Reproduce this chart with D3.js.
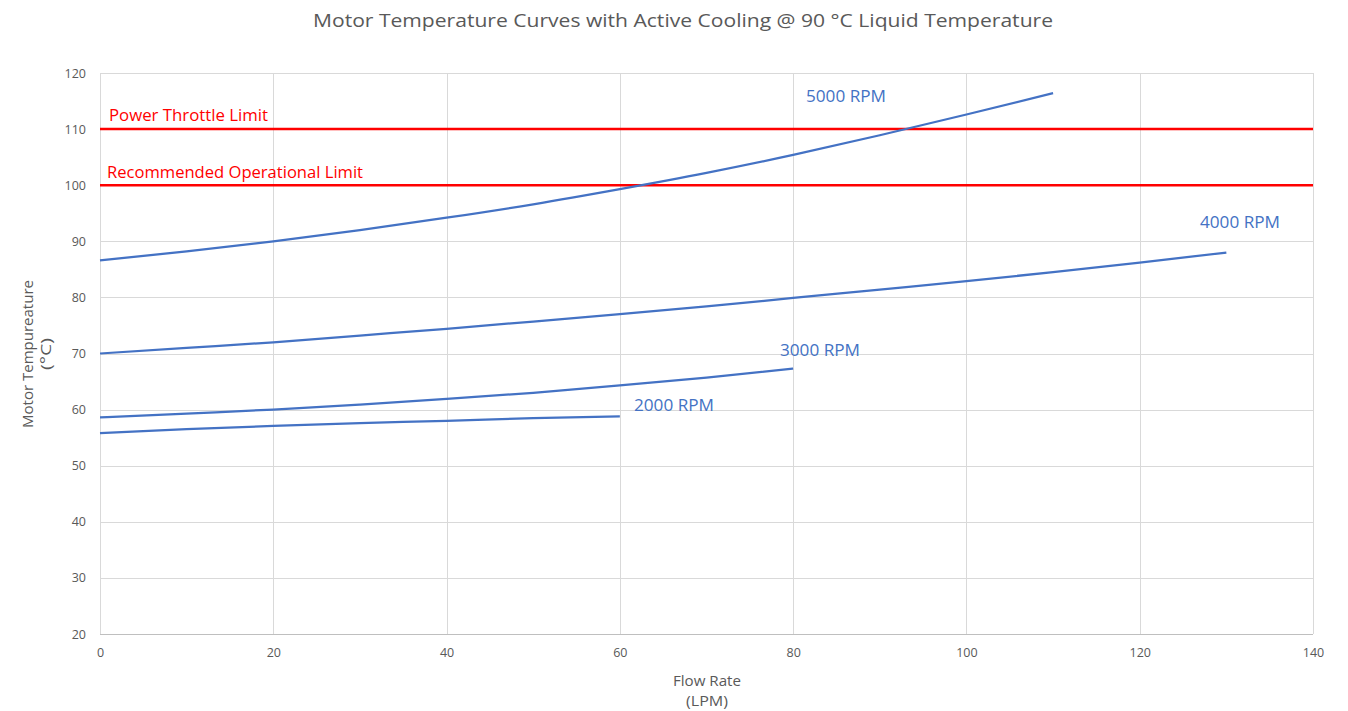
<!DOCTYPE html>
<html>
<head>
<meta charset="utf-8">
<script src="https://cdn.jsdelivr.net/npm/d3@7"></script>
<style>
  html, body { margin: 0; padding: 0; background: #fff; }
  svg { display: block; font-family: "Open Sans", "Noto Sans", sans-serif; }
</style>
</head>
<body>
<svg id="chart" width="1348" height="711"></svg>
<script>
// Flow rate (LPM) sample points and motor temperature (°C) per speed
const flow2000 = [0, 10, 20, 30, 40, 50, 60];
const temp2000 = [55.8, 56.5, 57.1, 57.6, 58.0, 58.5, 58.8];

const flow3000 = [0, 10, 20, 30, 40, 50, 60, 70, 80];
const temp3000 = [58.6, 59.3, 60.0, 60.9, 61.9, 63.0, 64.3, 65.7, 67.3];

const flow4000 = [0, 10, 20, 30, 40, 50, 60, 70, 80, 90, 100, 110, 120, 130];
const temp4000 = [70.0, 71.0, 72.0, 73.2, 74.4, 75.7, 77.0, 78.4, 79.9, 81.4, 82.9, 84.5, 86.2, 88.0];

const flow5000 = [0, 10, 20, 30, 40, 50, 60, 70, 80, 90, 100, 110];
const temp5000 = [86.6, 88.2, 90.0, 92.0, 94.2, 96.6, 99.3, 102.2, 105.4, 108.9, 112.6, 116.4];

const seriesNames = ["2000 RPM", "3000 RPM", "4000 RPM", "5000 RPM"];

// Horizontal limit lines
const limitNames = ["Power Throttle Limit", "Recommended Operational Limit"];
const limitValues = [110, 100];

const xTicks = [0, 20, 40, 60, 80, 100, 120, 140];
const yTicks = [20, 30, 40, 50, 60, 70, 80, 90, 100, 110, 120];

(function draw() {
  const svg = d3.select("#chart");
  const plotLeft = 100, plotRight = 1313, plotTop = 73, plotBottom = 634;

  const x = d3.scaleLinear().domain([0, 140]).range([plotLeft, plotRight]);
  const y = d3.scaleLinear().domain([20, 120]).range([plotBottom, plotTop]);

  const grey = "#595959";
  const blue = "#4472C4";
  const red = "#FF0000";

  // Title
  svg.append("text")
    .attr("x", 683).attr("y", 27)
    .attr("text-anchor", "middle")
    .attr("font-size", 19)
    .attr("fill", grey)
    .attr("textLength", 740)
    .attr("lengthAdjust", "spacingAndGlyphs")
    .text("Motor Temperature Curves with Active Cooling @ 90 °C Liquid Temperature");

  // Gridlines
  const grid = svg.append("g");
  grid.selectAll("line.h").data(yTicks).join("line")
    .attr("class", "h")
    .attr("x1", plotLeft).attr("x2", plotRight)
    .attr("y1", d => Math.round(y(d)) + 0.5).attr("y2", d => Math.round(y(d)) + 0.5)
    .attr("stroke", d => d === 20 ? "#BFBFBF" : "#D9D9D9").attr("stroke-width", 1);
  grid.selectAll("line.v").data(xTicks).join("line")
    .attr("class", "v")
    .attr("y1", plotTop).attr("y2", plotBottom)
    .attr("x1", d => Math.round(x(d)) + 0.5).attr("x2", d => Math.round(x(d)) + 0.5)
    .attr("stroke", "#D9D9D9").attr("stroke-width", 1);

  // Axes (labels only, lines come from the grid)
  const xAxis = svg.append("g").attr("transform", `translate(0,${plotBottom})`)
    .call(d3.axisBottom(x).tickValues(xTicks).tickSize(0).tickPadding(14).tickFormat(d3.format("d")));
  const yAxis = svg.append("g").attr("transform", `translate(${plotLeft},0)`)
    .call(d3.axisLeft(y).tickValues(yTicks).tickSize(0).tickPadding(14).tickFormat(d3.format("d")));
  [xAxis, yAxis].forEach(a => {
    a.select(".domain").remove();
    a.selectAll("text").attr("fill", grey).attr("font-size", 12.5)
      .attr("font-family", "'Open Sans', sans-serif");
  });

  // Axis titles
  const title = (tx, ty, rot, len, txt) => svg.append("text")
    .attr("transform", `translate(${tx},${ty})` + (rot ? " rotate(-90)" : ""))
    .attr("text-anchor", "middle")
    .attr("font-size", 14).attr("fill", grey)
    .attr("textLength", len).attr("lengthAdjust", "spacingAndGlyphs")
    .text(txt);
  title(707, 686, false, 68, "Flow Rate");
  title(707, 706, false, 42, "(LPM)");
  title(33, 354, true, 148, "Motor Tempureature");
  title(51, 354, true, 32, "(°C)");

  // Limit lines
  svg.selectAll("line.limit").data(limitValues).join("line")
    .attr("class", "limit")
    .attr("x1", plotLeft).attr("x2", plotRight)
    .attr("y1", d => y(d)).attr("y2", d => y(d))
    .attr("stroke", red).attr("stroke-width", 2.5);
  const limitLabel = (lx, ly, len, txt) => svg.append("text")
    .attr("x", lx).attr("y", ly).attr("font-size", 16).attr("fill", red)
    .attr("textLength", len).attr("lengthAdjust", "spacingAndGlyphs").text(txt);
  limitLabel(109, 121, 159, limitNames[0]);
  limitLabel(107, 178, 256, limitNames[1]);

  // Speed curves
  const line = d3.line().x(d => x(d[0])).y(d => y(d[1])).curve(d3.curveMonotoneX);
  const series = [
    { name: seriesNames[0], flow: flow2000, temp: temp2000, lx: 634, ly: 411 },
    { name: seriesNames[1], flow: flow3000, temp: temp3000, lx: 780, ly: 356 },
    { name: seriesNames[2], flow: flow4000, temp: temp4000, lx: 1200, ly: 228 },
    { name: seriesNames[3], flow: flow5000, temp: temp5000, lx: 806, ly: 102 }
  ];
  series.forEach(s => {
    svg.append("path")
      .datum(s.flow.map((f, i) => [f, s.temp[i]]))
      .attr("d", line)
      .attr("fill", "none")
      .attr("stroke", blue)
      .attr("stroke-width", 2.25);
    svg.append("text").attr("x", s.lx).attr("y", s.ly)
      .attr("font-size", 16).attr("fill", blue)
      .attr("textLength", 80).attr("lengthAdjust", "spacingAndGlyphs")
      .text(s.name);
  });
})();
</script>
</body>
</html>
